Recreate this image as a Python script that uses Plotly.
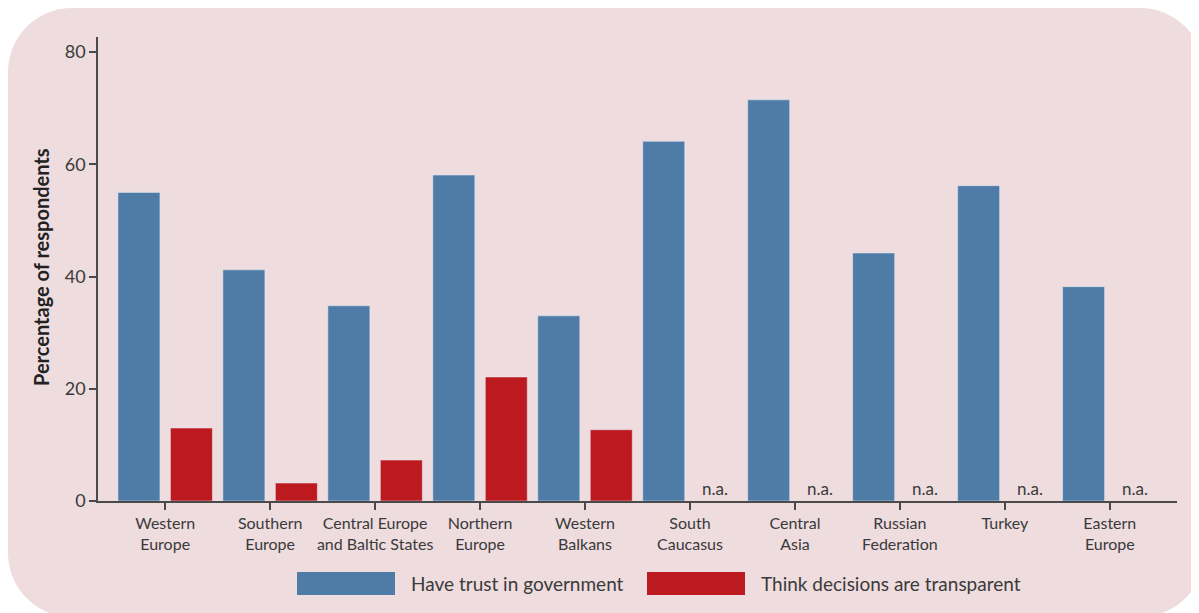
import plotly.graph_objects as go

categories = ["Western<br>Europe", "Southern<br>Europe", "Central Europe<br>and Baltic States",
              "Northern<br>Europe", "Western<br>Balkans", "South<br>Caucasus", "Central<br>Asia",
              "Russian<br>Federation", "Turkey", "Eastern<br>Europe"]
trust = [55.0, 41.2, 34.8, 58.1, 33.0, 64.1, 71.5, 44.2, 56.2, 38.2]
transparent = [13.0, 3.2, 7.3, 22.1, 12.7, None, None, None, None, None]
series_names = ["Have trust in government", "Think decisions are transparent"]
y_ticks = [0, 20, 40, 60, 80]

BLUE = "#4F7CA7"
RED = "#BD1A20"
PANEL = "#EEDCDF"
TXT = "#3a3a3a"
FONT = "Lato"

# page body has an 8px margin, so the figure is drawn 8px in from the window edge
OFF = 8
W, H = 1199 - OFF, 613 - OFF
L, R, T, B = 98 - OFF, 22, 37 - OFF, 112
PW, PH = W - L - R, H - T - B


def px(x):
    return (x - OFF - L) / PW


def py(y):
    return (H - B - (y - OFF)) / PH


fig = go.Figure()
fig.add_trace(go.Bar(x=categories, y=trust, name=series_names[0], marker_color=BLUE,
                     showlegend=False))
fig.add_trace(go.Bar(x=categories, y=transparent, name=series_names[1], marker_color=RED,
                     showlegend=False))

# n.a. labels
for c, v in zip(categories, transparent):
    if v is None:
        fig.add_annotation(x=c, y=0, text="n.a.", showarrow=False, xshift=25, yanchor="bottom",
                           yshift=0, font=dict(family=FONT, size=17, color=TXT))

# rounded panel background (window pixel coordinates)
x0, x1, y0, y1, r = 8, 1204, 8, 617, 64
k = 0.5523 * r


def P(x, y):
    return f"{px(x):.5f},{py(y):.5f}"


path = (f"M {P(x0 + r, y0)} L {P(x1 - r, y0)} "
        f"C {P(x1 - r + k, y0)} {P(x1, y0 + r - k)} {P(x1, y0 + r)} "
        f"L {P(x1, y1 - r)} "
        f"C {P(x1, y1 - r + k)} {P(x1 - r + k, y1)} {P(x1 - r, y1)} "
        f"L {P(x0 + r, y1)} "
        f"C {P(x0 + r - k, y1)} {P(x0, y1 - r + k)} {P(x0, y1 - r)} "
        f"L {P(x0, y0 + r)} "
        f"C {P(x0, y0 + r - k)} {P(x0 + r - k, y0)} {P(x0 + r, y0)} Z")
fig.add_shape(type="path", path=path, xref="paper", yref="paper", fillcolor=PANEL,
              line=dict(width=0), layer="below")

# custom legend
legend_items = [(series_names[0], BLUE, 297), (series_names[1], RED, 647)]
for name, col, lx in legend_items:
    fig.add_shape(type="rect", xref="paper", yref="paper", x0=px(lx), x1=px(lx + 98),
                  y0=py(572), y1=py(595), fillcolor=col, line=dict(width=0))
    fig.add_annotation(xref="paper", yref="paper", x=px(lx + 112), y=py(583.5), text=name,
                       showarrow=False, xanchor="left", yanchor="middle",
                       font=dict(family=FONT, size=19, color=TXT))

# y-axis title
fig.add_annotation(xref="paper", yref="paper", x=px(41), y=py(267),
                   text="<b>Percentage of respondents</b>", textangle=-90, showarrow=False,
                   xanchor="center", yanchor="middle",
                   font=dict(family=FONT, size=20, color="#222222"))

fig.update_layout(
    width=W, height=H,
    margin=dict(l=L, r=R, t=T, b=B, autoexpand=False),
    paper_bgcolor="white", plot_bgcolor="rgba(0,0,0,0)",
    barmode="group", bargap=0.0, bargroupgap=0.2,
    showlegend=False,
    font=dict(family=FONT, size=16, color=TXT),
)
fig.update_xaxes(range=[-0.64, len(categories) - 1 + 0.64], showline=True, linecolor="#4a4a4a",
                 linewidth=1.5, ticks="outside", ticklen=7, tickcolor="#4a4a4a", tickwidth=1.5,
                 showgrid=False, zeroline=False, tickfont=dict(family=FONT, size=16, color=TXT),
                 fixedrange=True)
fig.update_yaxes(range=[0, 82.7], tickvals=y_ticks, showline=True, linecolor="#4a4a4a",
                 linewidth=1.5, ticks="outside", ticklen=7, tickcolor="#4a4a4a", tickwidth=1.5,
                 showgrid=False, zeroline=False, tickfont=dict(family=FONT, size=18, color=TXT),
                 fixedrange=True)

fig.write_html("out.html", config={"displayModeBar": False})
